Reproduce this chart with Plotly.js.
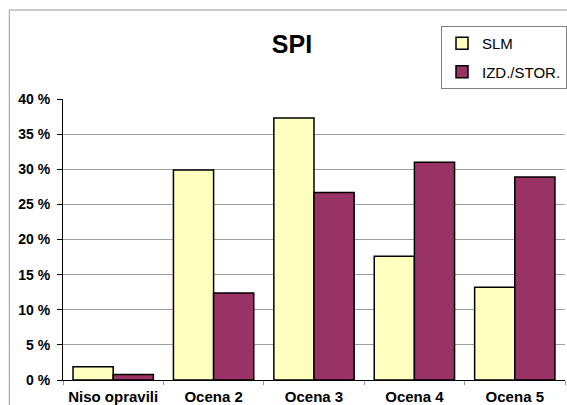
<!DOCTYPE html>
<html>
<head>
<meta charset="utf-8">
<script src="https://cdn.plot.ly/plotly-3.0.1.min.js"></script>
<style>
  html, body { margin: 0; padding: 0; background: #fff; }
  #chart { width: 567px; height: 405px; }
</style>
</head>
<body>
<div id="chart"></div>
<script>
// categories and series values (percent)
var categories = ['Niso opravili', 'Ocena 2', 'Ocena 3', 'Ocena 4', 'Ocena 5'];
var slmValues = [1.9, 29.9, 37.3, 17.6, 13.2];
var izdValues = [0.8, 12.4, 26.7, 31.0, 28.9];
var yTicks = [0, 5, 10, 15, 20, 25, 30, 35, 40];
var yTickLabels = yTicks.map(function (v) { return v + ' %'; });

var font = 'Arial, "Liberation Sans", sans-serif';

var slmTrace = {
  type: 'bar',
  name: 'SLM',
  legendgroup: 'slm',
  x: categories,
  y: slmValues,
  marker: { color: '#ffffc0', line: { color: '#000', width: 1.5 } },
  hoverinfo: 'none'
};

var izdTrace = {
  type: 'bar',
  name: 'IZD./STOR.',
  legendgroup: 'izd',
  x: categories,
  y: izdValues,
  marker: { color: '#993366', line: { color: '#000', width: 1.5 } },
  hoverinfo: 'none'
};

// plot area: 63..567 px horizontally, 99..380 px vertically
var layout = {
  width: 567,
  height: 405,
  margin: { l: 63, r: 0, t: 99, b: 25 },
  paper_bgcolor: '#fff',
  plot_bgcolor: '#fff',
  font: { family: font, color: '#000' },
  barmode: 'group',
  bargap: 0.2,
  bargroupgap: 0,
  title: {
    text: '<b>SPI</b>',
    font: { size: 25, family: font, color: '#000' },
    xref: 'container', yref: 'container',
    x: 0.515, y: 0.891, xanchor: 'center', yanchor: 'middle'
  },
  showlegend: true,
  legend: {
    x: 1.004, y: 1.26, xanchor: 'right', yanchor: 'top',
    bordercolor: '#808080', borderwidth: 1,
    bgcolor: '#fff',
    traceorder: 'grouped', tracegroupgap: 6,
    itemwidth: 30,
    font: { size: 15, family: font, color: '#000' },
    itemclick: false
  },
  xaxis: {
    type: 'category',
    showline: true, linecolor: '#000', linewidth: 1,
    ticks: 'outside', tickson: 'boundaries', ticklen: 4, tickcolor: '#999',
    ticklabelstandoff: 3,
    tickfont: { size: 15, family: font, weight: 'bold', color: '#000' },
    showgrid: false, zeroline: false, fixedrange: true
  },
  yaxis: {
    range: [0, 40],
    tickmode: 'array',
    tickvals: yTicks,
    ticktext: yTickLabels,
    showline: true, linecolor: '#000', linewidth: 1,
    ticks: 'outside', ticklen: 5, tickcolor: '#000',
    ticklabelstandoff: 4,
    tickfont: { size: 14, family: font, weight: 'bold', color: '#000' },
    showgrid: true, gridcolor: '#a0a0a0', gridwidth: 1,
    zeroline: false, fixedrange: true
  },
  shapes: [
    // chart frame (top and left edges visible)
    {
      type: 'path', xref: 'paper', yref: 'paper',
      path: 'M -0.107,-0.1 L -0.107,1.3167 L 1.01,1.3167',
      line: { color: '#999', width: 1 }
    }
  ]
};

Plotly.newPlot('chart', [slmTrace, izdTrace], layout, { staticPlot: true, displayModeBar: false });
</script>
</body>
</html>
